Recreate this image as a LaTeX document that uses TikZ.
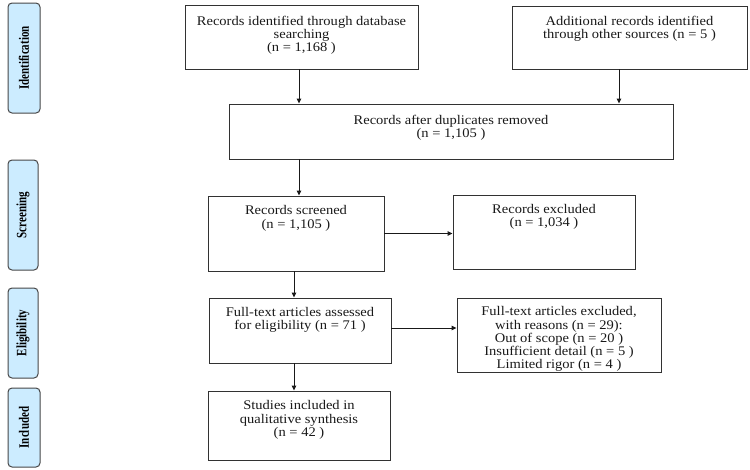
\documentclass[tikz,border=0pt]{standalone}
\usepackage{fontspec}
\setmainfont{Liberation Serif}[FakeStretch=1.1]
\newfontfamily\sidefont{Liberation Serif}
\usetikzlibrary{arrows.meta,calc}
\definecolor{sideblue}{RGB}{204,236,255}
\definecolor{edge}{RGB}{50,50,50}
\begin{document}
\begin{tikzpicture}[x=1pt,y=-1pt,
 box/.style={draw=edge, line width=0.9pt, rectangle, inner sep=0, fill=white},
 side/.style={draw=edge!90, line width=1pt, fill=sideblue, rounded corners=4pt, inner sep=0},
 txt/.style={anchor=north, inner sep=0, align=center, font=\fontsize{13.2}{13.2}\selectfont, text=black!90},
 lab/.style={inner sep=0, font=\sidefont\bfseries\fontsize{11}{13}\selectfont},
 arr/.style={-{Triangle[length=5pt,width=4.5pt]}, line width=0.9pt, draw=black!90}]
\useasboundingbox[fill=white] (0,0) rectangle (750,469);
% side boxes
\node[side, minimum width=32pt, minimum height=110pt] (s1) at (24,58) {};
\node[side, minimum width=30pt, minimum height=110pt] (s2) at (23,215) {};
\node[side, minimum width=30pt, minimum height=90pt] (s3) at (23,333) {};
\node[side, minimum width=32pt, minimum height=79pt] (s4) at (24,427.5) {};
\node[lab, rotate=90] (l1) at (s1.center) {\scalebox{1}[1.3]{Identification}};
\node[lab, rotate=90] (l2) at (s2.center) {\scalebox{1}[1.3]{Screening}};
\node[lab, rotate=90] (l3) at (s3.center) {\scalebox{1}[1.3]{Eligibility}};
\node[lab, rotate=90] (l4) at (s4.center) {\scalebox{1}[1.3]{Included}};
% boxes
\node[box, minimum width=233pt, minimum height=64pt] (db) at (301.5,37) {};
\node[box, minimum width=235pt, minimum height=63pt] (oth) at (629.5,37.5) {};
\node[box, minimum width=444pt, minimum height=55pt] (dup) at (451,131.5) {};
\node[box, minimum width=176pt, minimum height=75pt] (scr) at (296,233.5) {};
\node[box, minimum width=182pt, minimum height=74pt] (exc) at (544,232) {};
\node[box, minimum width=182pt, minimum height=65pt] (fta) at (300,330.5) {};
\node[box, minimum width=204pt, minimum height=74pt] (fte) at (559,335) {};
\node[box, minimum width=182pt, minimum height=69pt] (inc) at (299,425.5) {};
% texts
\node[txt] (tdb) at ([yshift=-11pt]db.north) {Records identified through database\\searching\\(n = 1,168 )};
\node[txt] (toth) at ([yshift=-10.5pt]oth.north) {Additional records identified\\through other sources (n = 5 )};
\node[txt] (tdup) at ([yshift=-11pt]dup.north) {Records after duplicates removed\\(n = 1,105 )};
\node[txt] (tscr) at ([yshift=-10pt]scr.north) {Records screened\\(n = 1,105 )};
\node[txt] (texc) at ([yshift=-9.5pt]exc.north) {Records excluded\\(n = 1,034 )};
\node[txt] (tfta) at ([yshift=-9.5pt]fta.north) {Full-text articles assessed\\for eligibility (n = 71 )};
\node[txt] (tfte) at ([yshift=-9pt]fte.north) {Full-text articles excluded,\\with reasons (n = 29):\\Out of scope (n = 20 )\\Insufficient detail (n = 5 )\\Limited rigor (n = 4 )};
\node[txt] (tinc) at ([yshift=-10pt]inc.north) {Studies included in\\qualitative synthesis\\(n = 42 )};
% arrows
\coordinate (a3) at ([xshift=-2.5pt]scr.north -| db.south);
\draw[arr] ([xshift=-2.5pt]db.south) -- ([xshift=-2.5pt]db.south |- dup.north);
\draw[arr] ([xshift=-10.5pt]oth.south) -- ([xshift=-10.5pt]oth.south |- dup.north);
\draw[arr] (dup.south -| a3) -- (a3);
\draw[arr] (scr.east) -- (scr.east -| exc.west);
\draw[arr] ([xshift=-2pt]scr.south) -- ([xshift=-2pt]scr.south |- fta.north);
\draw[arr] ([yshift=2.5pt]fta.east) -- ([yshift=2.5pt]fta.east -| fte.west);
\draw[arr] ([xshift=-6pt]fta.south) -- ([xshift=-6pt]fta.south |- inc.north);
\end{tikzpicture}
\end{document}
